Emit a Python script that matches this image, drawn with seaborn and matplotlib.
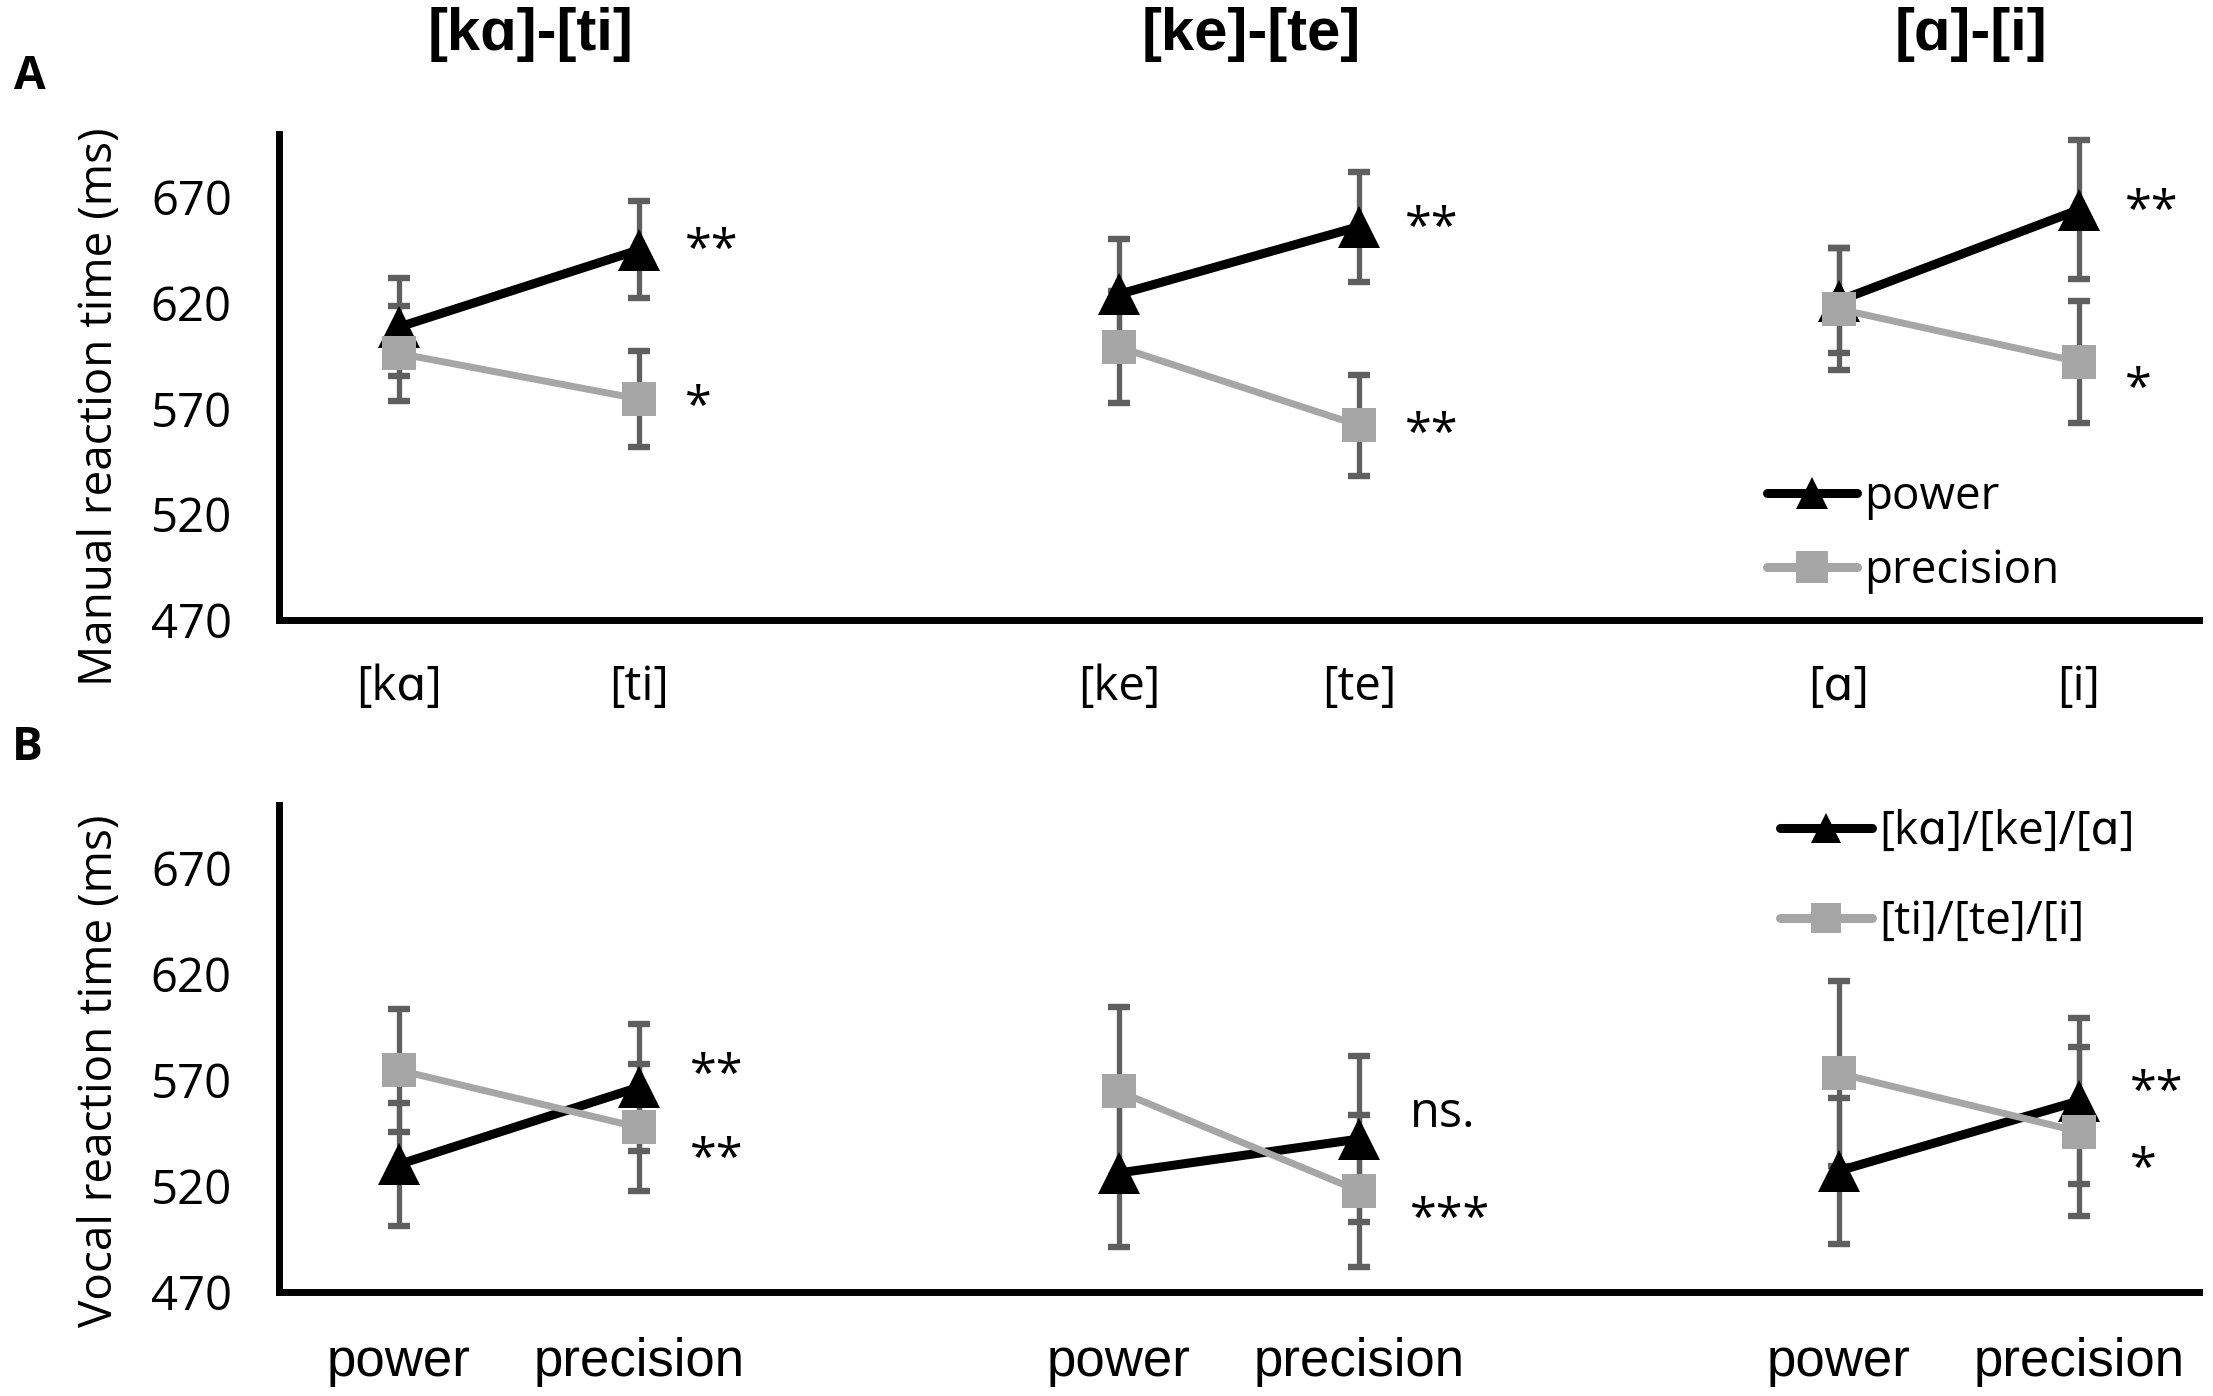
import numpy as np
import pandas as pd
import matplotlib
matplotlib.use("Agg")
import matplotlib.pyplot as plt
import matplotlib.transforms as mtransforms
from matplotlib.lines import Line2D
import seaborn as sns

# ---------------- data ----------------
pair_titles = ["[kɑ]-[ti]", "[ke]-[te]", "[ɑ]-[i]"]
syllables = ["[kɑ]", "[ti]", "[ke]", "[te]", "[ɑ]", "[i]"]
grips = ["power", "precision", "power", "precision", "power", "precision"]
slot_index = [0, 1, 3, 4, 6, 7]          # category slots (2 and 5 are empty gaps)
pair_of_point = [0, 0, 1, 1, 2, 2]

# Panel A: manual RT by syllable, series = grip type
manual_power = [608.5, 645.0, 624.0, 656.0, 621.0, 664.0]
manual_power_err = [23.0, 23.0, 26.0, 26.0, 25.0, 33.0]
manual_precision = [596.0, 574.5, 599.0, 562.0, 617.0, 592.0]
manual_precision_err = [22.5, 22.5, 26.5, 24.0, 29.0, 29.0]

# Panel B: vocal RT by grip type, series = syllable type
vocal_first = [530.0, 566.5, 526.0, 542.0, 527.0, 560.0]
vocal_first_err = [29.0, 30.0, 35.0, 39.0, 34.5, 39.0]
vocal_second = [574.5, 547.5, 564.5, 517.5, 573.0, 545.5]
vocal_second_err = [29.0, 30.0, 40.0, 36.0, 43.5, 40.0]

series_A = ["power", "precision"]
series_B = ["[kɑ]/[ke]/[ɑ]", "[ti]/[te]/[i]"]

y_ticks = [470, 520, 570, 620, 670]
y_limits = (470, 700)

# significance labels (label, x slot, value)
sig_A_labels = ["**", "*", "**", "**", "**", "*"]
sig_A_slot = [1, 1, 4, 4, 7, 7]
sig_A_y = [647.7, 573.2, 657.8, 560.6, 666.0, 582.0]
sig_B_labels = ["**", "**", "ns.", "***", "**", "*"]
sig_B_slot = [1, 1, 4, 4, 7, 7]
sig_B_y = [574.6, 535.3, 553.8, 506.6, 566.8, 530.2]

# ---------------- tables ----------------
def make_df(vals1, err1, vals2, err2, names):
    rows = []
    for i in range(len(slot_index)):
        rows.append(dict(pos=slot_index[i], rt=vals1[i], err=err1[i],
                         series=names[0], pair=pair_of_point[i]))
        rows.append(dict(pos=slot_index[i], rt=vals2[i], err=err2[i],
                         series=names[1], pair=pair_of_point[i]))
    return pd.DataFrame(rows)

dfA = make_df(manual_power, manual_power_err, manual_precision, manual_precision_err, series_A)
dfB = make_df(vocal_first, vocal_first_err, vocal_second, vocal_second_err, series_B)

# ---------------- style ----------------
sns.set_theme(style="white")
plt.rcParams['font.family'] = ['Open Sans', 'DejaVu Sans']
plt.rcParams['text.color'] = 'black'
plt.rcParams['axes.labelcolor'] = 'black'
plt.rcParams['xtick.color'] = 'black'
plt.rcParams['ytick.color'] = 'black'

BLACK = "#000000"
GREY = "#A6A6A6"
ERR = "#5F5F5F"

W, H = 2213, 1396
fig = plt.figure(figsize=(W / 100, H / 100), dpi=100)
axA = fig.add_axes([279 / W, 1 - 620 / H, 1920 / W, (620 - 133.5) / H])
axB = fig.add_axes([279 / W, 1 - 1291.5 / H, 1920 / W, (1291.5 - 804.5) / H])

styles = [
    dict(color=BLACK, marker="^", markersize=30, linewidth=6.5, z=3),
    dict(color=GREY, marker="s", markersize=25, linewidth=5.0, z=4),
]

def draw_panel(ax, df, names):
    for p in range(3):
        for k, name in enumerate(names):
            sub = df[(df.pair == p) & (df.series == name)].sort_values("pos")
            st = styles[k]
            ax.errorbar(sub.pos, sub.rt, yerr=sub.err, fmt="none", ecolor=ERR,
                        elinewidth=3.8, capsize=7.8, capthick=4.6, zorder=2)
            sns.lineplot(data=sub, x="pos", y="rt", ax=ax, color=st["color"],
                         marker=st["marker"], markersize=st["markersize"],
                         markeredgewidth=0, linewidth=st["linewidth"],
                         errorbar=None, legend=False, zorder=st["z"])
    ax.set_xlim(-0.5, 7.5)
    ax.set_ylim(*y_limits)
    ax.set_yticks(y_ticks)
    ax.set_xlabel("")
    for s in ["top", "right"]:
        ax.spines[s].set_visible(False)
    for s in ["left", "bottom"]:
        ax.spines[s].set_color(BLACK)
        ax.spines[s].set_linewidth(5)
    ax.tick_params(axis="both", length=0, colors="black")
    ax.tick_params(axis="y", labelsize=34, pad=34)
    ax.grid(False)

draw_panel(axA, dfA, series_A)
draw_panel(axB, dfB, series_B)

# x tick labels
axA.set_xticks(slot_index)
axA.set_xticklabels(syllables, fontsize=34)
axA.tick_params(axis="x", pad=31)
axB.set_xticks(slot_index)
axB.set_xticklabels(grips, fontsize=38, family=["Liberation Sans", "DejaVu Sans"])
axB.tick_params(axis="x", pad=33)

# y labels
axA.set_ylabel("Manual reaction time (ms)", fontsize=33, va="center", color="black")
axA.yaxis.set_label_coords(-0.0932, 0.438)
axB.set_ylabel("Vocal reaction time (ms)", fontsize=33, va="center", color="black")
axB.yaxis.set_label_coords(-0.0932, 0.453)

# titles above pairs
tr = mtransforms.blended_transform_factory(axA.transData, fig.transFigure)
for p, t in enumerate(pair_titles):
    xmid = (slot_index[2 * p] + slot_index[2 * p + 1]) / 2 + 0.05
    axA.text(xmid, 1 - 35 / H, t, transform=tr, ha="center", va="center",
             fontsize=43, fontweight="bold", color="black",
             family=["Liberation Sans", "DejaVu Sans"])

# panel letters
fig.text(14 / W, 1 - 76.5 / H, "A", fontsize=33, fontweight="bold", ha="left",
         va="center", color="black")
fig.text(12 / W, 1 - 747 / H, "B", fontsize=33, fontweight="bold", ha="left",
         va="center", color="black")

# significance marks
def put_sig(ax, labels, slots, ys, dx):
    for lab, s, y in zip(labels, slots, ys):
        off = 0 if lab.startswith("n") else -5.5
        trans = mtransforms.offset_copy(ax.transData, fig=fig, y=off, units="points")
        ax.text(s + dx, y, lab, transform=trans, ha="left", va="center",
                fontsize=35, color="black")

put_sig(axA, sig_A_labels, sig_A_slot, sig_A_y, 0.19)
put_sig(axB, sig_B_labels, sig_B_slot, sig_B_y, 0.21)

# legends
def handles(names, ms):
    return [
        Line2D([], [], color=BLACK, lw=6.5, marker="^", markersize=ms[0], mew=0,
               solid_capstyle="round", label=names[0]),
        Line2D([], [], color=GREY, lw=6.5, marker="s", markersize=ms[1], mew=0,
               solid_capstyle="round", label=names[1]),
    ]

legA = axA.legend(handles=handles(series_A, (23, 23)), loc="center left",
                  bbox_to_anchor=(0.775, 0.176), frameon=False, fontsize=33,
                  handlelength=1.96, handletextpad=0.15, labelspacing=0.61,
                  borderpad=0, borderaxespad=0)
legB = axB.legend(handles=handles(series_B, (22, 22)), loc="center left",
                  bbox_to_anchor=(0.782, 0.852), frameon=False, fontsize=33,
                  handlelength=2.0, handletextpad=0.15, labelspacing=0.96,
                  borderpad=0, borderaxespad=0)
for leg in (legA, legB):
    for t in leg.get_texts():
        t.set_color("black")

fig.savefig("out.png", dpi=100, facecolor="white")
